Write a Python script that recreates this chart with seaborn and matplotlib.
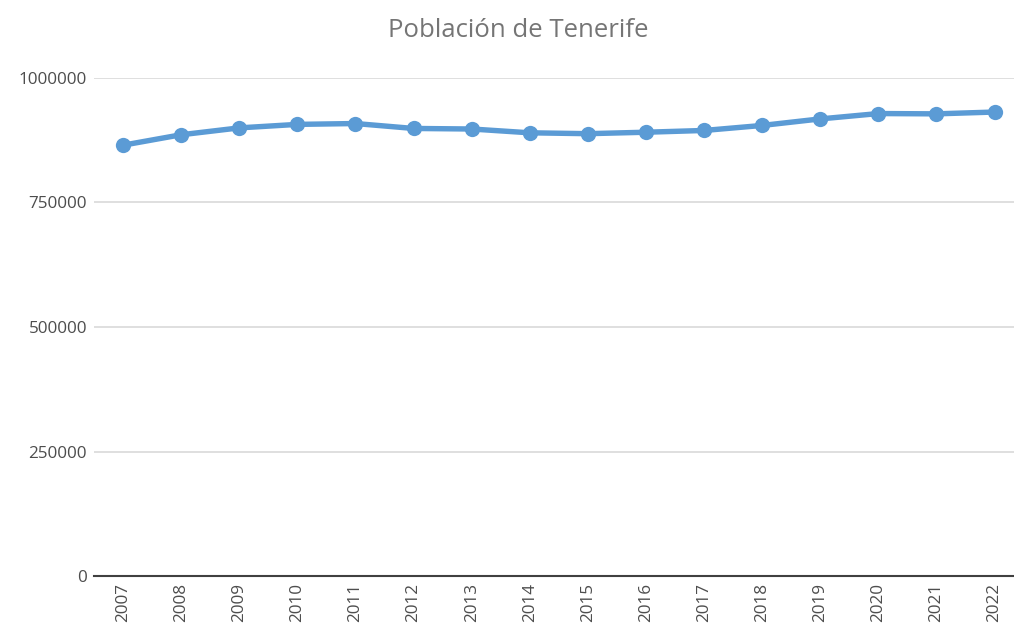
import matplotlib
matplotlib.use("Agg")
import matplotlib.pyplot as plt
import seaborn as sns
import pandas as pd

years = ["2007", "2008", "2009", "2010", "2011", "2012", "2013", "2014",
         "2015", "2016", "2017", "2018", "2019", "2020", "2021", "2022"]
population = [865070, 886033, 899833, 906854, 908555, 898680, 897582, 889936,
              888184, 891111, 894636, 904713, 917841, 928604, 927993, 931646]
y_ticks = [0, 250000, 500000, 750000, 1000000]

df = pd.DataFrame({"pos": range(len(years)), "poblacion": population})

sns.set_theme(style="white")
plt.rcParams["font.family"] = ["Open Sans", "DejaVu Sans"]

fig = plt.figure(figsize=(10.14, 6.28), dpi=100)
ax = fig.add_axes([0.0927, 0.0828, 0.907, 0.793])

sns.lineplot(data=df, x="pos", y="poblacion", ax=ax, color="#5B9BD5",
             linewidth=3.9, marker="o", markersize=11, markeredgewidth=0)

ax.set_ylim(0, 1000000)
ax.set_xlim(-0.5, 15.33)
ax.set_yticks(y_ticks)
ax.set_yticklabels([str(v) for v in y_ticks], fontsize=12.3, color="#4d4d4d")
ax.set_xticks(range(len(years)))
ax.set_xticklabels(years, rotation=90, fontsize=12.3, color="#4d4d4d")
ax.tick_params(axis="both", length=0, pad=5)

ax.grid(axis="y", color="#D9D9D9", linewidth=1.2)
ax.set_axisbelow(True)
for side in ["top", "right", "left"]:
    ax.spines[side].set_visible(False)
ax.spines["bottom"].set_color("#404040")
ax.spines["bottom"].set_linewidth(1.5)
ax.set_xlabel("")
ax.set_ylabel("")

fig.text(0.511, 0.952, "Población de Tenerife", ha="center", va="center",
         fontsize=18.5, color="#757575")

fig.savefig("out.png", dpi=100)
